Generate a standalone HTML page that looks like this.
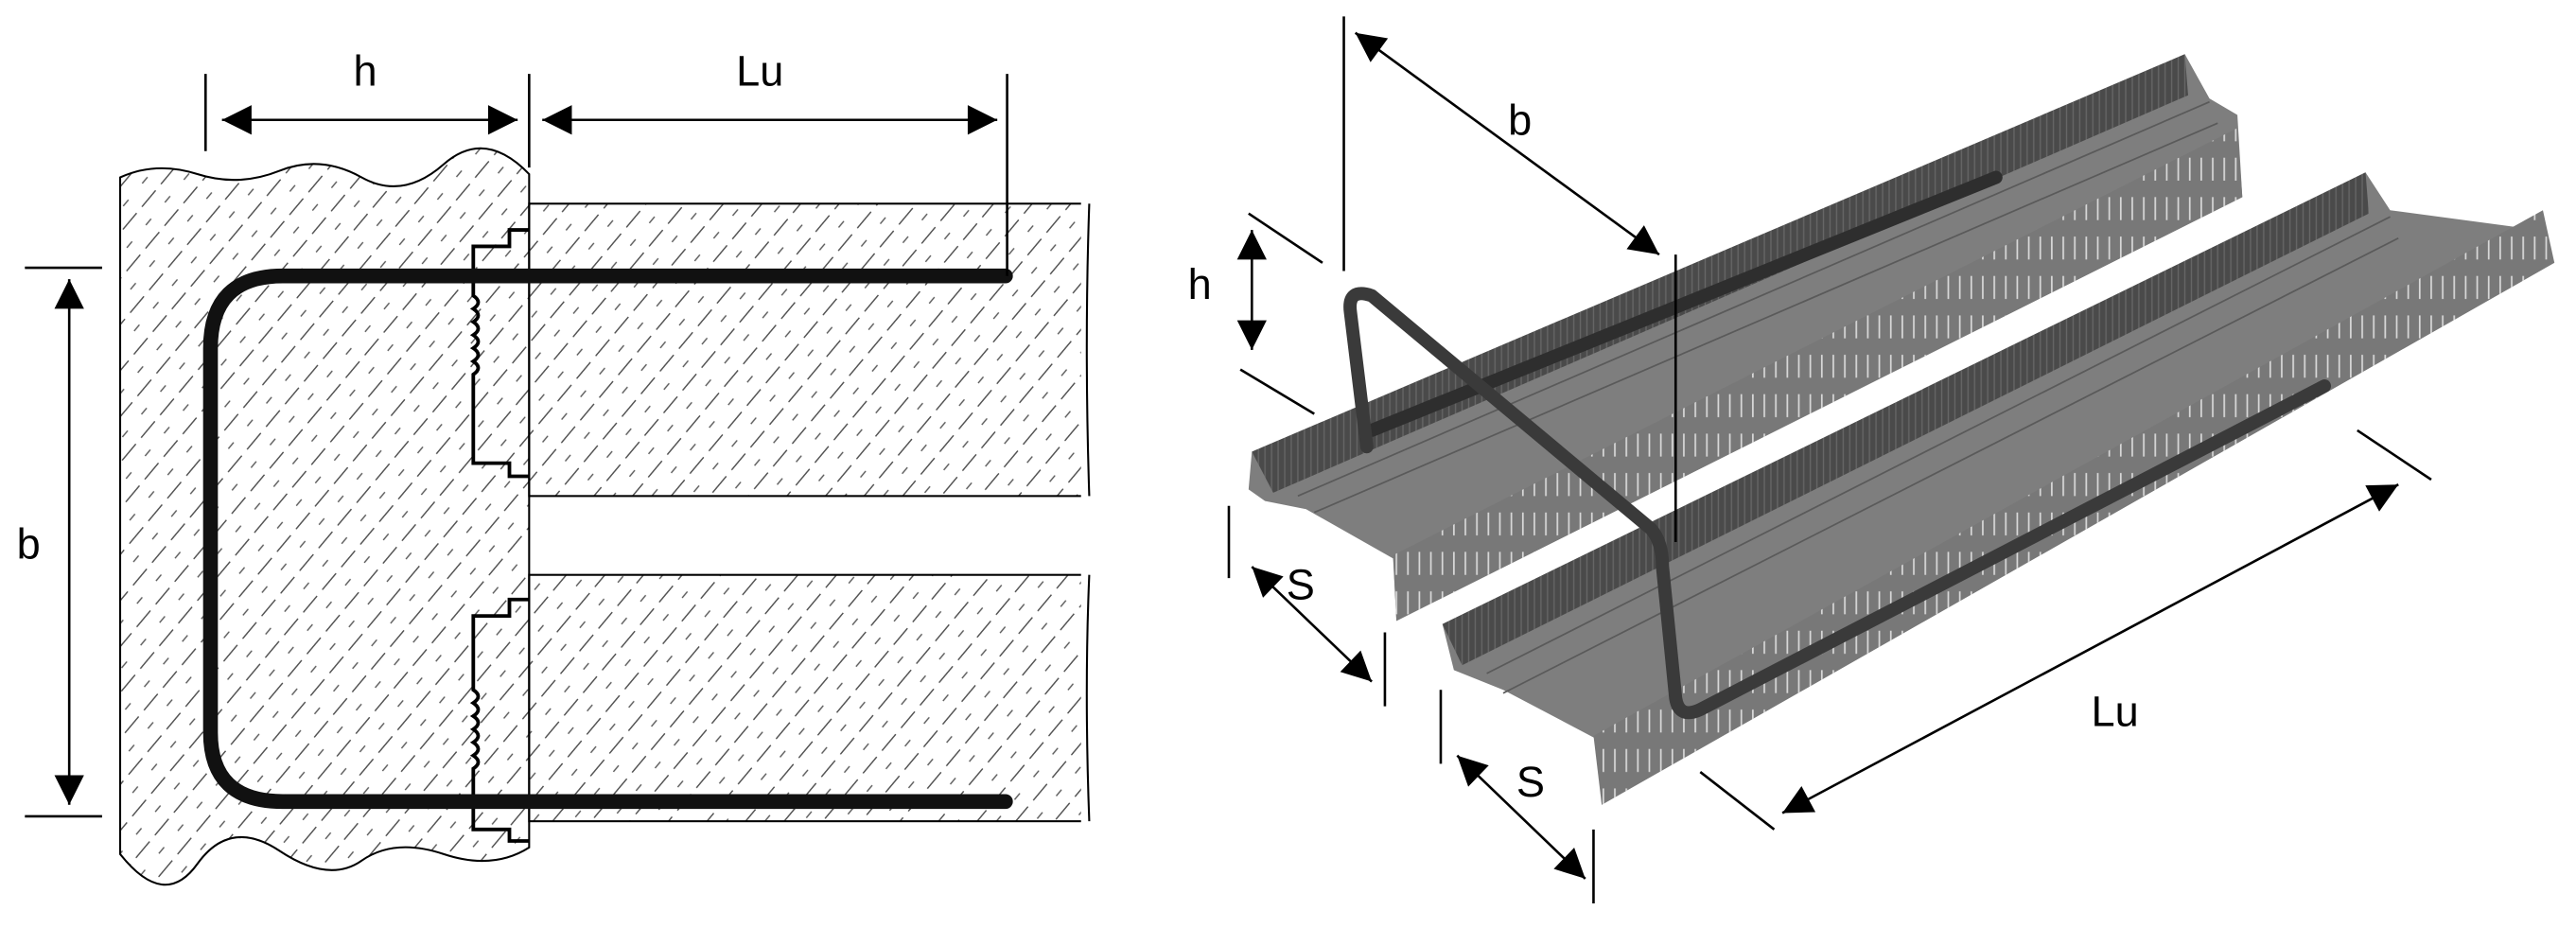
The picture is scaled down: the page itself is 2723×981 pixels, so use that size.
<!DOCTYPE html>
<html><head><meta charset="utf-8"><style>html,body{margin:0;padding:0;background:#fff}svg{display:block}</style></head>
<body>
<svg width="2723" height="981" viewBox="0 0 1568 565" xmlns="http://www.w3.org/2000/svg">
<defs>
<pattern id="hat" width="18" height="18" patternUnits="userSpaceOnUse" patternTransform="rotate(-50)">
<line x1="0" y1="3" x2="18" y2="3" stroke="#555" stroke-width="0.8" stroke-dasharray="8 5"/>
<line x1="6" y1="12" x2="18" y2="12" stroke="#555" stroke-width="0.8" stroke-dasharray="5 7"/>
</pattern>
<pattern id="slit" width="7" height="600" patternUnits="userSpaceOnUse">
<rect width="7" height="600" fill="#787878"/>
<line x1="3" y1="0" x2="3" y2="600" stroke="#d8d8d8" stroke-width="1" stroke-dasharray="14 10"/>
</pattern>
<pattern id="slitd" width="4" height="60" patternUnits="userSpaceOnUse">
<rect width="4" height="60" fill="#4a4a4a"/>
<line x1="2" y1="0" x2="2" y2="60" stroke="#666" stroke-width="0.8"/>
</pattern>
<marker id="ar2" viewBox="0 0 10 10" refX="10" refY="5" markerWidth="24" markerHeight="18" orient="auto-start-reverse" markerUnits="userSpaceOnUse">
<path d="M0,0 L10,5 L0,10 z" fill="#000"/></marker>
</defs>
<g font-family="Liberation Sans Narrow, Liberation Sans, sans-serif" font-size="26" fill="#000">
<path d="M73,108 Q95,98 120,106 T170,104 T220,108 T270,100 T322,106 L322,516 Q300,530 270,520 T220,524 T170,518 T120,526 T73,520 Z" fill="url(#hat)" stroke="#000" stroke-width="1.2"/>
<rect x="322" y="124" width="341" height="178" fill="url(#hat)" stroke="#000" stroke-width="1.2"/>
<rect x="322" y="350" width="341" height="150" fill="url(#hat)" stroke="#000" stroke-width="1.2"/>
<rect x="658" y="122" width="10" height="382" fill="#fff"/>
<path d="M663,124 Q660,210 663,302 M663,350 Q660,420 663,500" stroke="#000" fill="none" stroke-width="1.2"/>
<path d="M322,140 L310,140 L310,150 L288,150 L288,160 M288,160 L288,180 q6,4 0,8 q6,4 0,8 q6,4 0,8 q6,4 0,8 q6,4 0,8 q6,4 0,8 L288,270 L288,282 L310,282 L310,290 L322,290" fill="none" stroke="#000" stroke-width="2.2"/>
<path d="M322,365 L310,365 L310,375 L288,375 L288,420 q6,4 0,8 q6,4 0,8 q6,4 0,8 q6,4 0,8 q6,4 0,8 q6,4 0,8 L288,505 L310,505 L310,512 L322,512" fill="none" stroke="#000" stroke-width="2.2"/>
<path d="M612,168 L172,168 Q128,168 128,212 L128,446 Q128,488 172,488 L612,488" fill="none" stroke="#111" stroke-width="9" stroke-linecap="round"/>
<g stroke="#000" stroke-width="1.5">
<line x1="125" y1="45" x2="125" y2="92"/><line x1="322" y1="45" x2="322" y2="102"/><line x1="613" y1="45" x2="613" y2="168"/>
<line x1="135" y1="73" x2="315" y2="73" marker-start="url(#ar2)" marker-end="url(#ar2)"/>
<line x1="330" y1="73" x2="607" y2="73" marker-start="url(#ar2)" marker-end="url(#ar2)"/>
<line x1="15" y1="163" x2="62" y2="163"/><line x1="15" y1="497" x2="62" y2="497"/>
<line x1="42" y1="170" x2="42" y2="490" marker-start="url(#ar2)" marker-end="url(#ar2)"/>
</g>
<text x="215" y="52">h</text><text x="448" y="52">Lu</text><text x="10" y="340">b</text>

<path d="M762,275 L1330,33 L1345,60 L1362,70 L1365,120 L850,378 L848,340 L795,310 L770,305 L760,298 Z" fill="#7e7e7e"/>
<path d="M762,275 L1330,33 L1332,58 L775,300 Z" fill="url(#slitd)"/>
<path d="M848,338 L1362,78 L1365,120 L850,378 Z" fill="url(#slit)"/>
<path d="M790,302 L1345,62 M800,312 L1350,75" stroke="#5a5a5a" stroke-width="1" fill="none"/>
<path d="M835,262 L1215,108" stroke="#2e2e2e" stroke-width="8" fill="none" stroke-linecap="round"/>
<path d="M878,380 L1440,105 L1455,128 L1545,140 L1555,160 L975,490 L972,450 L915,420 L885,408 Z" fill="#7e7e7e"/>
<path d="M878,380 L1440,105 L1442,130 L890,405 Z" fill="url(#slitd)"/>
<path d="M970,448 L1548,128 L1555,160 L975,490 Z" fill="url(#slit)"/>
<path d="M905,410 L1455,132 M915,422 L1460,145" stroke="#5a5a5a" stroke-width="1" fill="none"/>
<path d="M832,272 L822,190 Q820,175 835,180 L1005,322 Q1012,330 1012,345 L1020,425 Q1022,438 1035,432 L1415,235" stroke="#3a3a3a" stroke-width="8" fill="none" stroke-linecap="round" stroke-linejoin="round"/>
<g stroke="#000" stroke-width="1.5">
<line x1="818" y1="10" x2="818" y2="165"/><line x1="1020" y1="155" x2="1020" y2="330"/>
<line x1="825" y1="20" x2="1010" y2="155" marker-start="url(#ar2)" marker-end="url(#ar2)"/>
<line x1="760" y1="130" x2="805" y2="160"/><line x1="755" y1="225" x2="800" y2="252"/>
<line x1="762" y1="140" x2="762" y2="213" marker-start="url(#ar2)" marker-end="url(#ar2)"/>
<line x1="748" y1="308" x2="748" y2="352"/><line x1="843" y1="385" x2="843" y2="430"/>
<line x1="762" y1="345" x2="835" y2="415" marker-start="url(#ar2)" marker-end="url(#ar2)"/>
<line x1="877" y1="420" x2="877" y2="465"/><line x1="970" y1="505" x2="970" y2="550"/>
<line x1="887" y1="460" x2="965" y2="535" marker-start="url(#ar2)" marker-end="url(#ar2)"/>
<line x1="1435" y1="262" x2="1480" y2="292"/><line x1="1035" y1="470" x2="1080" y2="505"/>
<line x1="1085" y1="495" x2="1460" y2="295" marker-start="url(#ar2)" marker-end="url(#ar2)"/>
</g>
<text x="918" y="82">b</text><text x="723" y="182">h</text><text x="783" y="365">S</text><text x="923" y="485">S</text><text x="1273" y="442">Lu</text>
</g>
</svg>
</body></html>
